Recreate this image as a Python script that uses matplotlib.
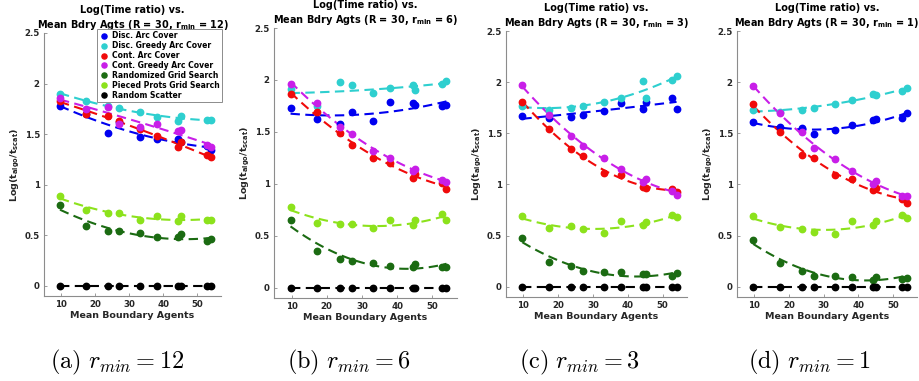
import numpy as np
import matplotlib
matplotlib.use("Agg")
import matplotlib.pyplot as plt

plt.rcParams["font.family"] = ["DejaVu Sans"]
plt.rcParams["mathtext.fontset"] = "dejavusans"

# =============================================================================
# Data
# =============================================================================
bdry_agents = [9.7, 17.3, 23.7, 27.1, 33.2, 38.1, 44.4, 45.2, 52.8, 54.0]

series_names = ["Disc. Arc Cover", "Disc. Greedy Arc Cover", "Cont. Arc Cover",
                "Cont. Greedy Arc Cover", "Randomized Grid Search",
                "Pieced Prots Grid Search", "Random Scatter"]
series_colors = ["#0000f0", "#2ecfcf", "#f00a0a", "#c81ee8",
                 "#1b6b12", "#8ce21c", "#000000"]

r_mins = [12, 6, 3, 1]
panel_tags = ["a", "b", "c", "d"]

# r_min = 12
disc_arc_12   = [1.78, 1.70, 1.51, 1.62, 1.47, 1.45, 1.45, 1.42, 1.38, 1.34]
disc_gr_12    = [1.90, 1.83, 1.78, 1.76, 1.72, 1.67, 1.63, 1.68, 1.64, 1.64]
cont_arc_12   = [1.83, 1.70, 1.68, 1.63, 1.55, 1.48, 1.37, 1.42, 1.29, 1.27]
cont_gr_12    = [1.86, 1.75, 1.77, 1.60, 1.57, 1.60, 1.53, 1.54, 1.39, 1.37]
rand_grid_12  = [0.80, 0.59, 0.54, 0.54, 0.52, 0.48, 0.48, 0.51, 0.44, 0.46]
pieced_12     = [0.89, 0.75, 0.72, 0.72, 0.65, 0.69, 0.64, 0.69, 0.65, 0.65]

# r_min = 6
disc_arc_6    = [1.73, 1.62, 1.58, 1.69, 1.60, 1.79, 1.78, 1.76, 1.75, 1.76]
disc_gr_6     = [1.91, 1.75, 1.98, 1.95, 1.87, 1.92, 1.95, 1.90, 1.96, 1.99]
cont_arc_6    = [1.86, 1.69, 1.49, 1.37, 1.25, 1.20, 1.06, 1.09, 1.01, 0.95]
cont_gr_6     = [1.96, 1.78, 1.55, 1.48, 1.32, 1.25, 1.12, 1.14, 1.04, 1.02]
rand_grid_6   = [0.65, 0.35, 0.28, 0.26, 0.24, 0.21, 0.20, 0.23, 0.20, 0.20]
pieced_6      = [0.78, 0.62, 0.61, 0.61, 0.57, 0.65, 0.60, 0.65, 0.71, 0.65]

# r_min = 3
disc_arc_3    = [1.67, 1.65, 1.66, 1.68, 1.72, 1.80, 1.74, 1.81, 1.85, 1.74]
disc_gr_3     = [1.77, 1.73, 1.75, 1.77, 1.81, 1.85, 2.01, 1.85, 2.02, 2.06]
cont_arc_3    = [1.81, 1.54, 1.35, 1.28, 1.11, 1.09, 0.98, 0.97, 0.96, 0.93]
cont_gr_3     = [1.97, 1.68, 1.47, 1.38, 1.26, 1.15, 1.02, 1.05, 0.94, 0.90]
rand_grid_3   = [0.48, 0.24, 0.20, 0.15, 0.14, 0.14, 0.12, 0.12, 0.11, 0.13]
pieced_3      = [0.69, 0.57, 0.59, 0.56, 0.53, 0.64, 0.60, 0.63, 0.70, 0.68]

# r_min = 1
disc_arc_1    = [1.61, 1.56, 1.55, 1.49, 1.53, 1.58, 1.63, 1.64, 1.65, 1.70]
disc_gr_1     = [1.73, 1.71, 1.73, 1.75, 1.79, 1.83, 1.88, 1.87, 1.91, 1.94]
cont_arc_1    = [1.79, 1.51, 1.29, 1.26, 1.09, 1.05, 0.95, 0.97, 0.86, 0.82]
cont_gr_1     = [1.96, 1.70, 1.51, 1.36, 1.25, 1.13, 1.00, 1.03, 0.89, 0.89]
rand_grid_1   = [0.46, 0.23, 0.15, 0.11, 0.11, 0.10, 0.07, 0.10, 0.08, 0.09]
pieced_1      = [0.69, 0.58, 0.56, 0.54, 0.52, 0.64, 0.60, 0.64, 0.70, 0.67]

rand_scatter  = [0.0] * 10

panel_data = [
    [disc_arc_12, disc_gr_12, cont_arc_12, cont_gr_12, rand_grid_12, pieced_12, rand_scatter],
    [disc_arc_6,  disc_gr_6,  cont_arc_6,  cont_gr_6,  rand_grid_6,  pieced_6,  rand_scatter],
    [disc_arc_3,  disc_gr_3,  cont_arc_3,  cont_gr_3,  rand_grid_3,  pieced_3,  rand_scatter],
    [disc_arc_1,  disc_gr_1,  cont_arc_1,  cont_gr_1,  rand_grid_1,  pieced_1,  rand_scatter],
]

# =============================================================================
# Figure
# =============================================================================
W, H = 920, 381
fig = plt.figure(figsize=(W / 100, H / 100), dpi=100)

# axes boxes in pixels: left, right, top, bottom
boxes = [(44, 221, 33, 296), (274, 457, 28, 298),
         (506, 687, 31, 297), (737, 917, 31, 297)]
cap_x = [117, 349, 579, 809]

tick_col = "#262626"
x = np.array(bdry_agents)
xf = np.linspace(x.min(), x.max(), 100)

for k, (l, r, t, b) in enumerate(boxes):
    ax = fig.add_axes([l / W, 1 - b / H, (r - l) / W, (b - t) / H])

    for name, col, ys in zip(series_names, series_colors, panel_data[k]):
        ys = np.array(ys)
        coef = np.polyfit(x, ys, 2)
        ax.plot(xf, np.polyval(coef, xf), color=col, lw=1.5,
                ls=(0, (4.5, 2.6)), zorder=2)
        ax.plot(x, ys, "o", color=col, ms=4.6, mec=col, label=name, zorder=3)

    ax.set_xlim(5, 57)
    ax.set_ylim(-0.1, 2.5)
    ax.set_xticks([10, 20, 30, 40, 50])
    ax.set_yticks([0, 0.5, 1, 1.5, 2, 2.5])
    ax.set_yticklabels(["0", "0.5", "1", "1.5", "2", "2.5"])
    for s in ["top", "right"]:
        ax.spines[s].set_visible(False)
    for s in ["left", "bottom"]:
        ax.spines[s].set_color("#8c8c8c")
        ax.spines[s].set_linewidth(0.8)
    ax.tick_params(direction="in", length=2.5, width=0.6, colors="#8c8c8c",
                   labelcolor=tick_col, labelsize=6.2, pad=3)
    for lab in ax.get_xticklabels() + ax.get_yticklabels():
        lab.set_fontweight("bold")

    ax.set_title("Log(Time ratio) vs.\n"
                 r"Mean Bdry Agts (R = 30, r$_{\mathbf{min}}$ = " + f"{r_mins[k]})",
                 fontsize=7, fontweight="bold", color="black", pad=3.5,
                 linespacing=1.35)
    ax.set_xlabel("Mean Boundary Agents", fontsize=6.8, fontweight="bold",
                  color=tick_col, labelpad=1)
    ax.set_ylabel(r"Log(t$_{\mathbf{algo}}$/t$_{\mathbf{scat}}$)", fontsize=6.8,
                  fontweight="bold", color=tick_col, labelpad=2)

    if k == 0:
        leg = ax.legend(loc="upper right", bbox_to_anchor=(1.006, 1.015),
                        prop={"weight": "bold", "size": 5.5},
                        handletextpad=0.3, labelspacing=0.12, borderpad=0.3,
                        handlelength=1.4, fancybox=False, framealpha=1,
                        borderaxespad=0.0, markerscale=0.8)
        leg.get_frame().set_edgecolor("#8c8c8c")
        leg.get_frame().set_linewidth(0.7)

    plt.rcParams["mathtext.fontset"] = "cm"
    fig.text(cap_x[k] / W, 1 - 362 / H,
             r"$\mathrm{(" + panel_tags[k] + r")}\ r_{min} = " + f"{r_mins[k]}$",
             ha="center", va="center", fontsize=17.5)
    plt.rcParams["mathtext.fontset"] = "dejavusans"

fig.savefig("out.png", dpi=100)
